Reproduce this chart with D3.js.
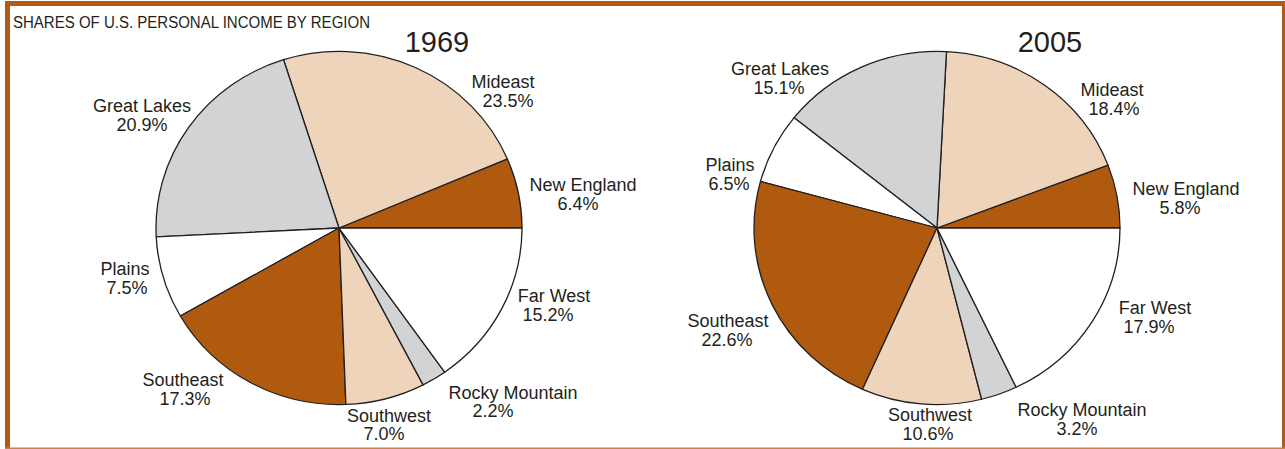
<!DOCTYPE html>
<html>
<head>
<meta charset="utf-8">
<script src="https://cdn.jsdelivr.net/npm/d3@7"></script>
<style>
  html, body { margin: 0; padding: 0; background: #fff; }
  svg { display: block; }
  text { font-family: "Liberation Sans", Arial, Helvetica, sans-serif; fill: #231f20; }
</style>
</head>
<body>
<svg id="chart" width="1285" height="449"></svg>
<script>
// ---- data ----
const title = "SHARES OF U.S. PERSONAL INCOME BY REGION";
const regions = ["New England", "Mideast", "Great Lakes", "Plains", "Southeast", "Southwest", "Rocky Mountain", "Far West"];
const years = ["1969", "2005"];
const shares1969 = [6.4, 23.5, 20.9, 7.5, 17.3, 7.0, 2.2, 15.2];
const shares2005 = [5.8, 18.4, 15.1, 6.5, 22.6, 10.6, 3.2, 17.9];

// ---- styling / layout ----
const brown = "#b05a10", peach = "#efd4bc", gray = "#d1d3d4", white = "#ffffff";
const fills = [brown, peach, gray, white, brown, peach, gray, white];
const pieCenters = [[339, 228], [937, 228]];
const rx = 183, ryScale = 0.965;
const yearLabelPos = [[437, 52], [1050, 52]];
// label layout: [nameX, nameBaseline, valueX, valueBaseline]
const labelLayout = [
  [[583,190.5,578,209.5],[503,87.5,508,106.5],[142,111.5,142,130.5],[125,274.5,127,293.5],
   [183,386,185,404.5],[389,421.5,384,440],[513,398.5,493,417],[554,302,548,320.5]],
  [[1186,194.5,1180,213.5],[1112,95.5,1114,114.5],[780,75,779,93.5],[730,170.5,729,189.5],
   [728,327,727,345.5],[930,421,928,439.5],[1082,415.5,1077,434.5],[1155,313.5,1149,332.5]]
];

const svg = d3.select("#chart");

// frame
const frameColor = "#b35a14";
svg.append("rect").attr("x", 5).attr("y", 1).attr("width", 1280).attr("height", 5).attr("fill", frameColor);
svg.append("rect").attr("x", 5).attr("y", 1).attr("width", 5).attr("height", 448).attr("fill", frameColor);
svg.append("rect").attr("x", 1282).attr("y", 1).attr("width", 3).attr("height", 448).attr("fill", frameColor);
svg.append("rect").attr("x", 5).attr("y", 447.5).attr("width", 1280).attr("height", 1.5).attr("fill", "#c9814a");

// title
svg.append("text").attr("x", 13).attr("y", 28)
  .attr("font-size", 16).attr("textLength", 357).attr("lengthAdjust", "spacingAndGlyphs")
  .text(title);

const pie = d3.pie().sort(null).value(d => d)
  .startAngle(Math.PI / 2).endAngle(Math.PI / 2 - 2 * Math.PI);
const arc = d3.arc().innerRadius(0).outerRadius(rx);

[shares1969, shares2005].forEach((shares, i) => {
  const [cx, cy] = pieCenters[i];
  const g = svg.append("g").attr("transform", `translate(${cx},${cy}) scale(1,${ryScale})`);
  g.selectAll("path").data(pie(shares)).join("path")
    .attr("d", arc)
    .attr("fill", (d, j) => fills[j])
    .attr("stroke", "#231f20")
    .attr("stroke-width", 1.3)
    .attr("stroke-linejoin", "round");

  svg.append("text").attr("x", yearLabelPos[i][0]).attr("y", yearLabelPos[i][1])
    .attr("text-anchor", "middle").attr("font-size", 29).text(years[i]);

  const lg = svg.append("g");
  regions.forEach((name, j) => {
    const L = labelLayout[i][j];
    lg.append("text").attr("x", L[0]).attr("y", L[1]).attr("text-anchor", "middle")
      .attr("font-size", 18).text(name);
    lg.append("text").attr("x", L[2]).attr("y", L[3]).attr("text-anchor", "middle")
      .attr("font-size", 18).text(d3.format(".1f")(shares[j]) + "%");
  });
});
</script>
</body>
</html>
